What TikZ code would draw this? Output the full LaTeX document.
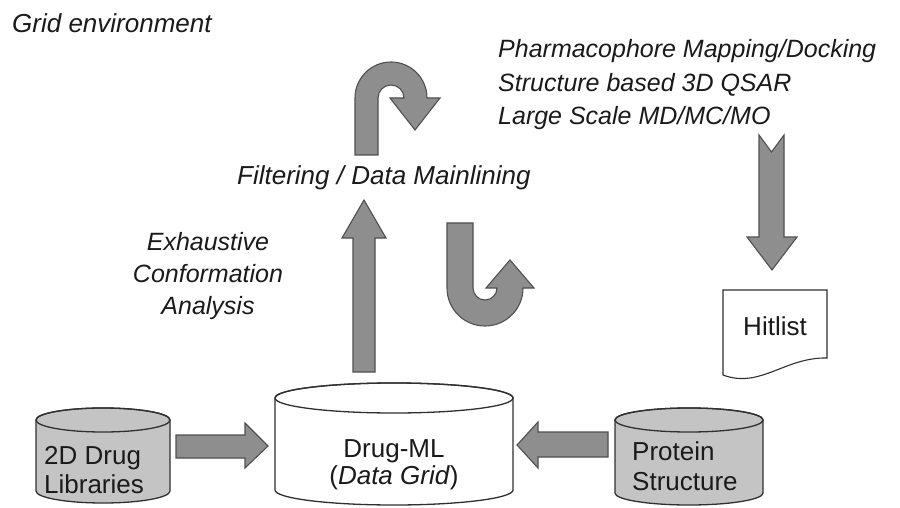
\documentclass[tikz,border=0pt]{standalone}
\usepackage{fontspec}
\setmainfont{Liberation Sans}
\definecolor{arrowfill}{HTML}{8E8E8E}
\definecolor{arrowline}{HTML}{505050}
\definecolor{cylfill}{HTML}{C4C4C4}
\definecolor{cylline}{HTML}{303030}
\definecolor{txt}{HTML}{1A1A1A}
\tikzset{
  blockarrow/.style={fill=arrowfill,draw=arrowline,line width=1.1pt,line join=miter},
  cylbody/.style={draw=cylline,line width=1.3pt},
  itlabel/.style={inner sep=0pt,text=txt,font=\fontsize{25}{30}\selectfont\itshape},
  bigitlabel/.style={inner sep=0pt,text=txt,font=\fontsize{26}{31}\selectfont\itshape},
  boxlabel/.style={inner sep=0pt,text=txt,font=\fontsize{26}{31}\selectfont},
}
\begin{document}
\begin{tikzpicture}[x=1pt,y=1pt]
\useasboundingbox (0,0) rectangle (900,507);
\fill[white] (0,0) rectangle (900,507);

% ---- cylinders ----
% left: 2D Drug Libraries
\path[cylbody,fill=cylfill] (36,87) -- (36,16) arc[start angle=180,end angle=360,x radius=67pt,y radius=12pt] -- (170,87) arc[start angle=0,end angle=180,x radius=67pt,y radius=12pt] -- cycle;
\draw[cylbody] (103,87) ellipse[x radius=67pt,y radius=12pt];
% centre: Drug-ML
\path[cylbody,fill=white] (275,109) -- (275,17) arc[start angle=180,end angle=360,x radius=119pt,y radius=15pt] -- (513,109) arc[start angle=0,end angle=180,x radius=119pt,y radius=15pt] -- cycle;
\draw[cylbody] (394,109) ellipse[x radius=119pt,y radius=15pt];
% right: Protein Structure
\path[cylbody,fill=cylfill] (615,87) -- (615,14) arc[start angle=180,end angle=360,x radius=74pt,y radius=12pt] -- (763,87) arc[start angle=0,end angle=180,x radius=74pt,y radius=12pt] -- cycle;
\draw[cylbody] (689,87) ellipse[x radius=74pt,y radius=12pt];

\node[boxlabel,anchor=base west] (lib1) at (44,43) {2D Drug};
\node[boxlabel,anchor=base west] (lib2) at (44,14) {Libraries};
\node[boxlabel,anchor=base] (dml1) at (394,50) {Drug-ML};
\node[boxlabel,anchor=base] (dml2) at (394,23) {(\textit{Data Grid})};
\node[boxlabel,anchor=base west] (pro1) at (632,47) {Protein};
\node[boxlabel,anchor=base west] (pro2) at (632,17) {Structure};

% ---- hitlist document ----
\draw[draw=cylline,line width=1.1pt,fill=white] (723,217) -- (723,132) .. controls (760,118) and (785,150) .. (827,149) -- (827,217) -- cycle;
\node[boxlabel,anchor=base] (hit) at (775,172) {Hitlist};

% ---- block arrows ----
% 2D Drug Libraries -> Drug-ML
\draw[blockarrow] (176,72) -- (245,72) -- (245,84) -- (268,61) -- (245,39) -- (245,49) -- (176,49) -- cycle;
% Protein Structure -> Drug-ML
\draw[blockarrow] (608,75) -- (538,75) -- (538,85) -- (517,62) -- (538,39) -- (538,50) -- (608,50) -- cycle;
% Drug-ML -> Filtering (up)
\draw[blockarrow] (353,135) -- (353,269) -- (342,269) -- (364,307) -- (386,269) -- (375,269) -- (375,135) -- cycle;
% down arrow to Hitlist
\draw[blockarrow] (759,372) -- (771.5,355) -- (784,372) -- (784,270) -- (797,270) -- (772,237) -- (747,270) -- (759,270) -- cycle;
% curved arrow top
\draw[blockarrow] (355,352) -- (355,409) arc[start angle=180,end angle=0,radius=36pt] -- (440,409) -- (415,377) -- (390,409) -- (404,409) arc[start angle=0,end angle=180,radius=13pt] -- (378,352) -- cycle;
% curved arrow bottom
\draw[blockarrow] (447,284) -- (447,219) arc[start angle=180,end angle=360,radius=38pt] -- (534,219) -- (510,247) -- (486,219) -- (497,219) arc[start angle=0,end angle=-180,radius=12pt] -- (473,284) -- cycle;

% ---- labels ----
\node[bigitlabel,anchor=base west] (grid) at (12,474) {Grid environment};
\node[itlabel,anchor=base west] (ph1) at (498,449) {Pharmacophore Mapping/Docking};
\node[itlabel,anchor=base west] (ph2) at (498,415) {Structure based 3D QSAR};
\node[itlabel,anchor=base west] (ph3) at (498,382) {Large Scale MD/MC/MO};
\node[bigitlabel,anchor=base west] (filt) at (237,322) {Filtering / Data Mainlining};
\node[itlabel,anchor=base] (ex1) at (208,257) {Exhaustive};
\node[itlabel,anchor=base] (ex2) at (208,225) {Conformation};
\node[itlabel,anchor=base] (ex3) at (208,193) {Analysis};
\end{tikzpicture}
\end{document}
